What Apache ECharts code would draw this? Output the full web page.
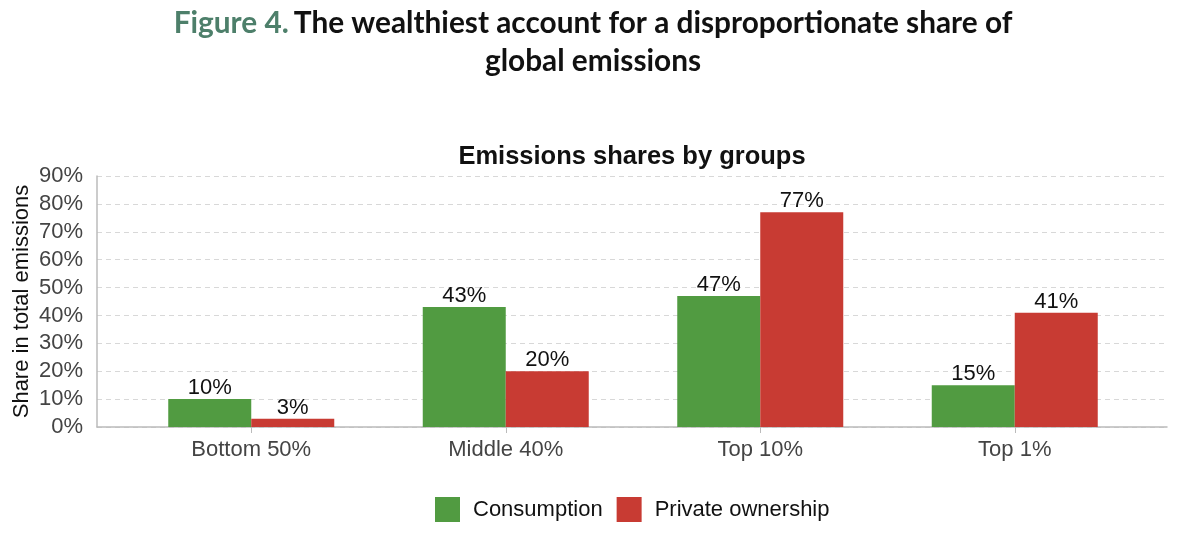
<!DOCTYPE html>
<html><head><meta charset="utf-8">
<script src="https://cdn.jsdelivr.net/npm/echarts@6/dist/echarts.min.js"></script>
<style>html,body{margin:0;padding:0;background:#fff}#c{width:1200px;height:536px}</style>
</head><body><div id="c"></div>
<script>
var categories = ['Bottom 50%', 'Middle 40%', 'Top 10%', 'Top 1%'];
var consumption = [10, 43, 47, 15];
var privateOwnership = [3, 20, 77, 41];
var seriesNames = ['Consumption', 'Private ownership'];

var FF = 'Liberation Sans, Arial';
var chart = echarts.init(document.getElementById('c'));
var labelOpt = {show: true, position: 'top', formatter: '{c}%', color: '#111', fontSize: 22, fontFamily: FF, distance: 0};
chart.setOption({
  animation: false,
  title: [{
    text: '{g|Figure 4.} {b|The wealthiest account for a disproportionate share of}\n{b|global emissions}',
    left: 588, textAlign: 'center', top: -1,
    textStyle: {
      align: 'center',
      rich: {
        g: {fontFamily: 'Lato', fontWeight: 'bold', fontSize: 29.8, color: '#4d7f6a', lineHeight: 38},
        b: {fontFamily: 'Lato', fontWeight: 'bold', fontSize: 29.8, color: '#111', lineHeight: 38}
      }
    }
  }, {
    text: 'Emissions shares by groups',
    left: 627, textAlign: 'center', top: 139,
    textStyle: {fontFamily: FF, fontWeight: 'bold', fontSize: 25.5, color: '#111'}
  }],
  legend: {
    data: seriesNames, bottom: 9, left: 430,
    itemWidth: 25, itemHeight: 25, itemGap: 14, icon: 'rect',
    textStyle: {fontFamily: FF, fontSize: 22, color: '#111', padding: [0, 0, 0, 8]}
  },
  grid: [
    {left: 97, right: 33, top: 176, bottom: 109, outerBoundsMode: 'none', containLabel: false},
    {left: 124, right: 58, top: 176, bottom: 109, outerBoundsMode: 'none', containLabel: false}
  ],
  xAxis: [{
    gridIndex: 0, type: 'value', min: 0, max: 1,
    axisLine: {show: true, lineStyle: {color: '#bbb', width: 1.5}},
    axisTick: {show: false}, axisLabel: {show: false}, splitLine: {show: false}
  }, {
    gridIndex: 1, type: 'category', data: categories,
    axisLine: {show: false},
    axisTick: {show: true, alignWithLabel: true, length: 6, lineStyle: {color: '#bbb'}},
    axisLabel: {fontFamily: FF, fontSize: 22, color: '#444', margin: 12}
  }],
  yAxis: [{
    gridIndex: 0, type: 'value', min: 0, max: 90, interval: 10,
    name: 'Share in total emissions', nameLocation: 'middle', nameGap: 64, nameRotate: 90,
    nameMoveOverlap: false,
    nameTextStyle: {fontFamily: FF, fontSize: 22, color: '#111'},
    axisLine: {show: true, lineStyle: {color: '#bbb', width: 1.5}},
    axisTick: {show: false},
    axisLabel: {formatter: '{value}%', fontFamily: FF, fontSize: 22, color: '#444', margin: 14},
    splitLine: {lineStyle: {color: '#d8d8d8', type: [5, 4]}}
  }, {
    gridIndex: 1, type: 'value', min: 0, max: 90, interval: 10,
    axisLine: {show: false}, axisTick: {show: false}, axisLabel: {show: false}, splitLine: {show: false}
  }],
  series: [{
    name: seriesNames[0], type: 'bar', data: consumption, xAxisIndex: 1, yAxisIndex: 1,
    barWidth: 83, barGap: '0%',
    itemStyle: {color: '#519b41'}, label: labelOpt
  }, {
    name: seriesNames[1], type: 'bar', data: privateOwnership, xAxisIndex: 1, yAxisIndex: 1,
    barWidth: 83, barGap: '0%',
    itemStyle: {color: '#c83b33'}, label: labelOpt
  }]
});
</script></body></html>
